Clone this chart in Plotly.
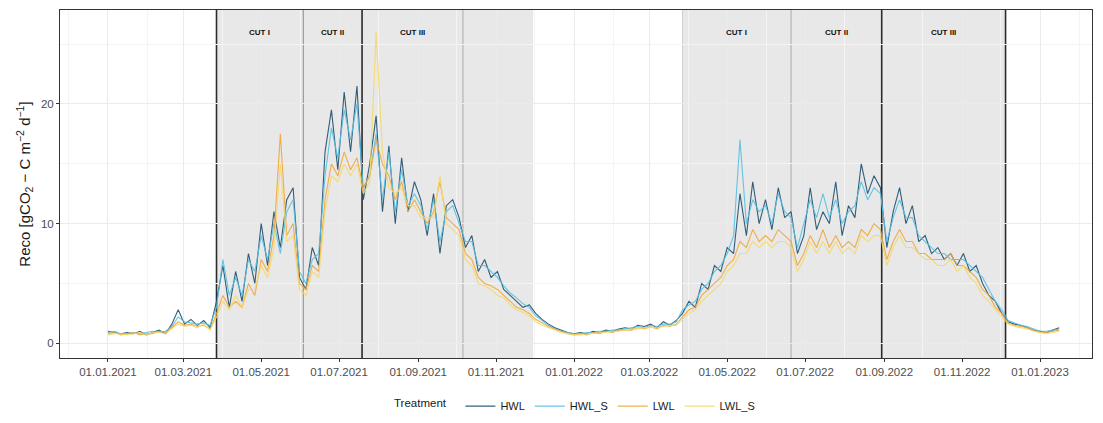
import pandas as pd
import plotly.graph_objects as go

# ---------------- data (5-day steps from 01.01.2021) ----------------
start_date = "2021-01-01"
n_points = 150
dates = pd.date_range(start_date, periods=n_points, freq="5D")

HWL = [1.0, 0.9, 0.8, 0.9, 0.8, 1.0, 0.7, 0.9, 1.1, 0.8, 1.6, 2.8, 1.6, 2.0, 1.5, 1.9, 1.3,
       3.5, 6.5, 3.0, 6.0, 3.5, 7.5, 5.0, 10.0, 6.5, 11.0, 8.0, 12.0, 13.0, 5.5,
       4.5, 8.0, 6.5, 16.0, 19.5, 14.5, 21.0, 16.0, 21.5,
       12.0, 15.0, 19.0, 11.0, 16.5, 10.0, 15.5, 11.0, 13.5, 12.0, 9.0, 12.5, 7.5, 11.5, 12.0, 10.5,
       8.0, 9.0, 6.0, 7.0, 5.5, 6.0, 4.5, 4.0, 3.5, 3.0, 3.2,
       2.5, 2.0, 1.6, 1.3, 1.1, 0.9, 0.8, 0.9, 0.8, 1.0, 0.9, 1.1, 1.0, 1.2, 1.3, 1.2, 1.5, 1.4, 1.6, 1.3, 1.8, 1.5, 1.9,
       2.5, 3.5, 3.0, 5.0, 4.5, 6.5, 6.0, 8.0, 7.5, 12.5, 9.0, 13.5, 10.0, 12.0, 9.5, 13.0, 10.5, 11.0,
       7.5, 9.0, 13.0, 9.5, 11.0, 10.0, 13.5, 9.0, 11.5, 10.5, 15.0, 12.5, 14.0, 13.0,
       8.0, 11.0, 13.0, 10.0, 11.5, 8.5, 9.0, 7.5, 8.0, 7.0, 7.5, 6.5, 7.5, 6.0, 6.5, 5.0, 4.0, 3.5, 2.5,
       1.8, 1.6, 1.5, 1.3, 1.1, 1.0, 0.9, 1.1, 1.3]

HWL_S = [0.9, 1.0, 0.8, 0.8, 0.9, 0.8, 0.9, 1.0, 0.9, 1.0, 1.4, 2.2, 1.8, 1.7, 1.6, 1.7, 1.5,
         3.0, 7.0, 4.0, 5.5, 4.0, 7.0, 6.0, 9.0, 7.0, 10.0, 7.5, 11.0, 12.0, 6.0,
         5.0, 7.0, 7.5, 14.0, 18.0, 15.5, 19.5, 17.0, 20.0,
         13.0, 14.0, 17.5, 12.0, 16.0, 11.0, 14.5, 11.5, 12.5, 11.5, 9.5, 12.0, 8.5, 11.0, 11.5, 10.0,
         8.5, 8.5, 6.5, 6.5, 6.0, 5.5, 4.8, 4.2, 3.8, 3.3, 3.0,
         2.3, 1.9, 1.5, 1.2, 1.0, 0.9, 0.8, 0.8, 0.9, 0.9, 1.0, 1.0, 1.1, 1.1, 1.2, 1.3, 1.4, 1.3, 1.5, 1.4, 1.6, 1.6, 1.8,
         2.8, 3.2, 3.5, 4.5, 5.0, 6.0, 6.5, 7.5, 9.0, 17.0, 10.0, 12.0, 11.0, 11.5, 10.0, 12.5, 11.0, 10.5,
         8.0, 10.0, 12.0, 10.5, 12.5, 10.5, 12.0, 10.0, 11.0, 11.5, 13.5, 12.0, 13.0, 12.5,
         8.5, 10.5, 12.0, 10.5, 10.5, 9.0, 8.5, 8.0, 7.5, 7.5, 7.0, 7.0, 7.0, 6.5, 6.0, 5.5, 4.5, 3.5, 2.8,
         1.9, 1.7, 1.5, 1.4, 1.2, 1.0, 1.0, 1.1, 1.2]

LWL = [0.8, 0.9, 0.7, 0.8, 0.9, 0.7, 0.8, 0.8, 1.0, 0.9, 1.3, 1.8, 1.5, 1.6, 1.4, 1.5, 1.2,
       2.5, 4.0, 3.0, 3.5, 3.0, 5.0, 4.0, 7.0, 6.0, 9.0, 17.5, 9.0, 10.0, 5.0,
       4.5, 6.5, 6.0, 12.0, 15.0, 14.0, 16.0, 14.5, 15.5,
       13.0, 14.0, 17.0, 15.0, 14.0, 12.0, 13.5, 11.0, 12.0, 11.0, 10.0, 11.0, 13.5, 10.5, 10.0, 9.5,
       7.5, 7.0, 5.5, 5.0, 4.8, 4.5, 4.0, 3.5, 3.0, 2.8, 2.5,
       2.0, 1.7, 1.4, 1.2, 1.0, 0.8, 0.7, 0.8, 0.7, 0.9, 0.8, 1.0, 0.9, 1.1, 1.1, 1.1, 1.3, 1.2, 1.4, 1.2, 1.5, 1.4, 1.6,
       2.2, 2.8, 3.0, 4.0, 4.5, 5.0, 5.5, 6.5, 7.0, 8.5, 8.0, 9.5, 8.5, 9.0, 8.5, 9.5, 9.0, 8.5,
       6.5, 7.5, 9.0, 8.0, 9.5, 8.0, 9.0, 8.0, 8.5, 8.0, 9.5, 9.0, 10.0, 9.5,
       7.0, 8.5, 9.5, 8.5, 8.5, 7.5, 7.5, 7.0, 7.0, 7.0, 7.5, 6.5, 6.5, 6.0, 5.5, 4.5, 4.0, 3.0, 2.5,
       1.7, 1.5, 1.4, 1.3, 1.1, 0.9, 0.9, 1.0, 1.1]

LWL_S = [0.7, 0.8, 0.8, 0.7, 0.8, 0.9, 0.7, 0.9, 0.9, 0.8, 1.2, 1.6, 1.4, 1.5, 1.3, 1.6, 1.1,
         2.2, 3.5, 2.8, 4.0, 3.0, 4.5, 4.5, 6.5, 5.5, 8.0, 15.0, 8.5, 9.0, 4.5,
         4.0, 6.0, 5.5, 11.0, 14.0, 13.5, 15.0, 14.0, 15.0,
         12.5, 13.5, 26.0, 16.0, 13.0, 12.5, 13.0, 11.5, 11.5, 10.5, 10.5, 10.5, 14.0, 10.0, 9.5, 9.0,
         7.0, 6.5, 5.0, 4.8, 4.5, 4.0, 3.8, 3.2, 2.8, 2.6, 2.3,
         1.8, 1.5, 1.3, 1.1, 0.9, 0.8, 0.7, 0.7, 0.8, 0.8, 0.9, 0.9, 1.0, 1.0, 1.1, 1.2, 1.2, 1.3, 1.3, 1.3, 1.4, 1.5, 1.5,
         2.0, 2.5, 2.8, 3.5, 4.0, 4.5, 5.0, 6.0, 6.5, 7.5, 7.5, 8.5, 8.0, 8.5, 8.0, 8.5, 8.5, 8.0,
         6.0, 7.0, 8.5, 7.5, 8.5, 7.5, 8.5, 7.5, 8.0, 7.5, 9.0, 8.5, 9.0, 9.0,
         6.5, 8.0, 9.0, 8.0, 8.0, 7.5, 7.0, 7.0, 6.5, 6.5, 7.0, 6.0, 6.5, 5.5, 5.0, 4.0, 3.5, 2.8, 2.2,
         1.6, 1.4, 1.3, 1.2, 1.0, 0.9, 0.8, 0.9, 1.0]

treatments = ["HWL", "HWL_S", "LWL", "LWL_S"]
series = [HWL, HWL_S, LWL, LWL_S]

shade_periods = [("2021-03-27", "2021-11-30"), ("2022-03-27", "2022-12-05")]
cut_lines_2021 = ["2021-03-27", "2021-06-03", "2021-07-19", "2021-10-06"]
cut_lines_2022 = ["2022-03-27", "2022-06-20", "2022-08-30", "2022-12-05"]
cut_labels = ["CUT I", "CUT II", "CUT III"]

y_ticks = [0, 10, 20]
x_range = ["2020-11-24 10:00", "2023-02-10 17:00"]
y_range = [-1.23, 27.85]

# ---------------- styling ----------------
colors = {"HWL": "#1E4F6E", "HWL_S": "#56C1E3", "LWL": "#F3A63A", "LWL_S": "#F4DA6A"}
FONT = "Liberation Sans, Arial, sans-serif"

fig = go.Figure()
for name, vals in zip(treatments, series):
    fig.add_trace(go.Scatter(x=dates, y=vals, mode="lines", name=name,
                             line=dict(color=colors[name], width=1.1), opacity=0.9))

shapes = []
for a, b in shade_periods:
    shapes.append(dict(type="rect", xref="x", yref="paper", x0=a, x1=b, y0=0, y1=1,
                       fillcolor="#E8E8E8", line=dict(width=0), layer="between"))

line_styles_2021 = [("#2B2B2B", 1.6), ("#9A9A9A", 1.2), ("#2B2B2B", 1.6), ("#B5B5B5", 1.2)]
line_styles_2022 = [("#D0D0D0", 1.0), ("#B5B5B5", 1.2), ("#2B2B2B", 1.6), ("#2B2B2B", 1.6)]
for lines, styles in ((cut_lines_2021, line_styles_2021), (cut_lines_2022, line_styles_2022)):
    for d, (c, w) in zip(lines, styles):
        shapes.append(dict(type="line", xref="x", yref="paper", x0=d, x1=d, y0=0, y1=1,
                           line=dict(color=c, width=w), layer="between"))

annotations = []
for lines in (cut_lines_2021, cut_lines_2022):
    ts = pd.to_datetime(lines)
    for i, lab in enumerate(cut_labels):
        mid = ts[i] + (ts[i + 1] - ts[i]) / 2
        annotations.append(dict(x=mid, y=26.0, xref="x", yref="y", text=f"<b>{lab}</b>",
                                showarrow=False, font=dict(family=FONT, size=8, color="#111111")))

fig.update_layout(
    width=1103, height=423,
    margin=dict(l=60, r=11, t=10, b=65, autoexpand=False),
    paper_bgcolor="white", plot_bgcolor="white",
    font=dict(family=FONT, color="#1A1A1A"),
    shapes=shapes, annotations=annotations,
    showlegend=True,
    legend=dict(orientation="h", x=0.5, xanchor="center", y=0.04, yanchor="middle",
                yref="container",
                title=dict(text="Treatment  ", font=dict(size=11.5, color="#1A1A1A")),
                font=dict(size=11, color="#1A1A1A"), itemwidth=30),
)

fig.update_xaxes(
    type="date", range=x_range, tickformat="%d.%m.%Y", dtick="M2", tick0=start_date,
    ticks="outside", ticklen=3, tickcolor="#333333", tickwidth=1,
    tickfont=dict(size=11.5, color="#4D4D4D"),
    showgrid=True, gridcolor="#EBEBEB", gridwidth=1,
    minor=dict(dtick="M1", tick0=start_date, showgrid=True, gridcolor="#F4F4F4", gridwidth=0.6),
    showline=True, linecolor="#333333", linewidth=1, mirror=True, zeroline=False,
)
fig.update_yaxes(
    range=y_range, tickvals=y_ticks, ticks="outside", ticklen=3, tickcolor="#333333",
    tickfont=dict(size=11.5, color="#4D4D4D"),
    showgrid=True, gridcolor="#EBEBEB", gridwidth=1,
    minor=dict(tickvals=[5, 15, 25], showgrid=True, gridcolor="#F4F4F4", gridwidth=0.6),
    showline=True, linecolor="#333333", linewidth=1, mirror=True, zeroline=False,
    title=dict(text="Reco [gCO<sub>2</sub> − C m<sup>−2</sup> d<sup>−1</sup>]",
               font=dict(size=15, color="#1A1A1A"), standoff=6),
)

fig.write_html("out.html")
